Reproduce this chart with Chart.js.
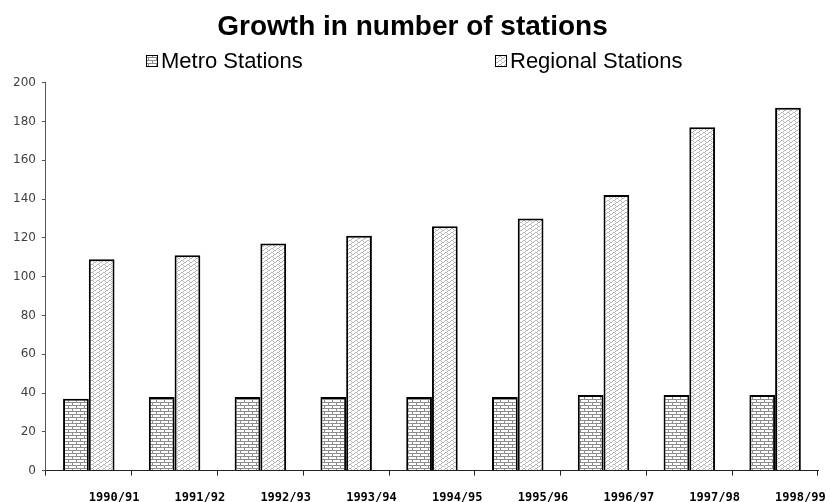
<!DOCTYPE html>
<html>
<head>
<meta charset="utf-8">
<script src="https://cdn.jsdelivr.net/npm/chart.js@4"></script>
<style>
  body { margin: 0; background: #fff; }
  #caixa { width: 830px; height: 502px; }
</style>
</head>
<body>
<div id="caixa"><canvas id="grafico"></canvas></div>
<script>
const anos = ['1990/91', '1991/92', '1992/93', '1993/94', '1994/95', '1995/96', '1996/97', '1997/98', '1998/99'];
const metro = [37, 38, 38, 38, 38, 38, 39, 39, 39];
const regional = [109, 111, 117, 121, 126, 130, 142, 177, 187];
const ticksY = [0, 20, 40, 60, 80, 100, 120, 140, 160, 180, 200];

// padrao de tijolos (Metro)
function padraoTijolo() {
  const c = document.createElement('canvas');
  c.width = 8; c.height = 6;
  const g = c.getContext('2d');
  g.fillStyle = '#fff';
  g.fillRect(0, 0, 8, 6);
  g.fillStyle = '#8c8c8c';
  g.fillRect(0, 0, 8, 1);
  g.fillRect(0, 3, 8, 1);
  g.fillRect(0, 0, 1, 3);
  g.fillRect(4, 3, 1, 3);
  return g.createPattern(c, 'repeat');
}

// padrao ondulado (Regional)
function padraoOnda() {
  const c = document.createElement('canvas');
  c.width = 6; c.height = 4;
  const g = c.getContext('2d');
  g.fillStyle = '#fff';
  g.fillRect(0, 0, 6, 4);
  g.fillStyle = '#b4b4b4';
  [[1, 0], [2, 0], [0, 1], [3, 1], [4, 2], [5, 2], [3, 3]].forEach(p => g.fillRect(p[0], p[1], 1, 1));
  return g.createPattern(c, 'repeat');
}

const corTijolo = padraoTijolo();
const corOnda = padraoOnda();

// legenda desenhada a mao (itens bem afastados como no original)
const legendaManual = {
  id: 'legendaManual',
  afterDraw(chart, args, opts) {
    const ctx = chart.ctx;
    ctx.save();
    ctx.font = opts.font;
    ctx.textBaseline = 'middle';
    chart.data.datasets.forEach((ds, i) => {
      const x = opts.xs[i];
      const y = opts.y;
      ctx.fillStyle = ds.backgroundColor;
      ctx.fillRect(x, y - opts.box / 2, opts.box, opts.box);
      ctx.strokeStyle = '#000';
      ctx.lineWidth = 1;
      ctx.strokeRect(x + 0.5, y - opts.box / 2 + 0.5, opts.box - 1, opts.box - 1);
      ctx.fillStyle = '#000';
      ctx.fillText(ds.label, x + opts.box + 3, y + 1);
    });
    ctx.restore();
  }
};

new Chart(document.getElementById('grafico'), {
  type: 'bar',
  data: {
    labels: anos,
    datasets: [{
      label: 'Metro Stations',
      data: metro,
      backgroundColor: corTijolo,
      borderColor: '#000',
      borderWidth: 2
    }, {
      label: 'Regional Stations',
      data: regional,
      backgroundColor: corOnda,
      borderColor: '#000',
      borderWidth: 2
    }]
  },
  plugins: [legendaManual],
  options: {
    responsive: true,
    maintainAspectRatio: false,
    animation: false,
    categoryPercentage: 0.6,
    barPercentage: 1.0,
    layout: { padding: { left: 7, right: 12, top: 0, bottom: -18 } },
    plugins: {
      legend: { display: false },
      tooltip: { enabled: false },
      title: {
        display: true,
        text: 'Growth in number of stations',
        color: '#000',
        font: { family: '"Liberation Sans", Arial, sans-serif', size: 28, weight: 'bold' },
        padding: { top: 10, bottom: 39 }
      },
      legendaManual: {
        font: '22px "Liberation Sans", Arial, sans-serif',
        xs: [146, 495],
        y: 61,
        box: 12
      }
    },
    scales: {
      x: {
        border: { color: '#222', width: 1 },
        grid: { display: true, drawOnChartArea: false, tickLength: 5, color: '#222' },
        afterFit: s => { s.paddingRight = 0; },
        ticks: {
          align: 'start',
          padding: 15,
          color: '#000',
          autoSkip: false,
          maxRotation: 0,
          font: { family: '"DejaVu Sans Mono", "Liberation Mono", monospace', size: 12, weight: 'bold' }
        }
      },
      y: {
        min: 0,
        max: 200,
        border: { color: '#555', width: 1 },
        grid: { display: true, drawOnChartArea: false, tickLength: 4, color: '#555' },
        afterBuildTicks: s => { s.ticks = ticksY.map(v => ({ value: v })); },
        ticks: {
          padding: 6,
          color: '#404040',
          font: { family: '"DejaVu Sans", sans-serif', size: 12 }
        }
      }
    }
  }
});
</script>
</body>
</html>
